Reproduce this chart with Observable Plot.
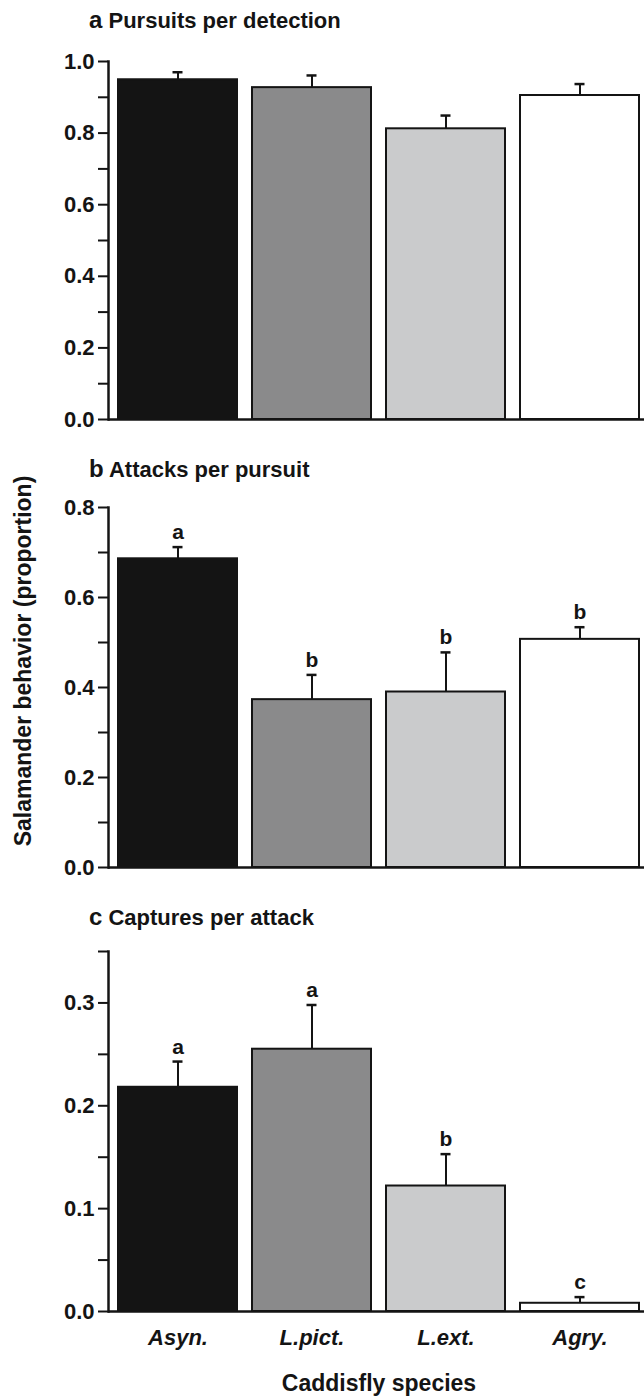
<!DOCTYPE html>
<html><head><meta charset="utf-8">
<script src="https://cdn.jsdelivr.net/npm/d3@7"></script>
<script src="https://cdn.jsdelivr.net/npm/@observablehq/plot@0.6"></script>
<style>
body{margin:0;background:#fff;font-family:"Liberation Sans",Arial,sans-serif;color:#141414}
#wrap{position:relative;width:644px;height:1396px;overflow:hidden;background:#fff}
.panel{position:absolute;left:0}
.title{position:absolute;left:89px;font-weight:bold;font-size:22px;line-height:22px;white-space:nowrap}
.ylab{position:absolute;font-weight:bold;font-size:23px;white-space:nowrap;transform:translate(-50%,-50%) rotate(-90deg);left:23px;top:661px}
.xlab{position:absolute;font-weight:bold;font-size:23px;white-space:nowrap;transform:translate(-50%,-50%);left:379px;top:1383px}
</style></head><body><div id="wrap"></div>
<script>
const species = ["Asyn.", "L.pict.", "L.ext.", "Agry."];
const fills = ["#141414", "#8a8a8b", "#cacbcc", "#ffffff"];

const pursuitsMean = [0.949, 0.927, 0.812, 0.905];
const pursuitsSE = [0.021, 0.034, 0.037, 0.032];
const pursuitsLetters = ["", "", "", ""];
const pursuitsTicks = [0, 0.2, 0.4, 0.6, 0.8, 1.0];
const pursuitsMinor = [0.1, 0.3, 0.5, 0.7, 0.9];

const attacksMean = [0.686, 0.373, 0.390, 0.507];
const attacksSE = [0.026, 0.055, 0.088, 0.027];
const attacksLetters = ["a", "b", "b", "b"];
const attacksTicks = [0, 0.2, 0.4, 0.6, 0.8];
const attacksMinor = [0.1, 0.3, 0.5, 0.7];

const capturesMean = [0.218, 0.255, 0.122, 0.008];
const capturesSE = [0.025, 0.043, 0.031, 0.006];
const capturesLetters = ["a", "a", "b", "c"];
const capturesTicks = [0, 0.1, 0.2, 0.3];
const capturesMinor = [0.05, 0.15, 0.25, 0.35];

const panels = [
  {title: "a", name: "Pursuits per detection", mean: pursuitsMean, se: pursuitsSE, letters: pursuitsLetters, ticks: pursuitsTicks, minor: pursuitsMinor, domain: [0, 1.0], top: 41, plotH: 358, xaxis: false, titleTop: 9},
  {title: "b", name: "Attacks per pursuit", mean: attacksMean, se: attacksSE, letters: attacksLetters, ticks: attacksTicks, minor: attacksMinor, domain: [0, 0.8], top: 487, plotH: 360, xaxis: false, titleTop: 458},
  {title: "c", name: "Captures per attack", mean: capturesMean, se: capturesSE, letters: capturesLetters, ticks: capturesTicks, minor: capturesMinor, domain: [0, 0.35], top: 931, plotH: 360, xaxis: true, titleTop: 906}
];

const wrap = document.getElementById("wrap");
const font = "Liberation Sans, Arial, sans-serif";

for (const p of panels) {
  const data = species.map((s, i) => ({species: s, value: p.mean[i], upper: p.mean[i] + p.se[i], letter: p.letters[i], fill: fills[i]}));
  const marginTop = 20, marginBottom = p.xaxis ? 56 : 12;
  const chart = Plot.plot({
    width: 644,
    height: marginTop + p.plotH + marginBottom,
    marginLeft: 108, marginRight: 0, marginTop, marginBottom,
    style: {fontFamily: font, color: "#141414", background: "transparent", overflow: "visible"},
    x: {type: "band", domain: species, range: [108, 649], paddingInner: 0.111, paddingOuter: 0.06, axis: null},
    y: {domain: p.domain, axis: null},
    marks: [
      Plot.barY(data, {x: "species", y: "value", fill: "fill", stroke: "#141414", strokeWidth: 2}),
      Plot.ruleX(data, {x: "species", y1: "value", y2: "upper", stroke: "#141414", strokeWidth: 2}),
      Plot.tickY(data, {x: "species", y: "upper", stroke: "#141414", strokeWidth: 2.5, insetLeft: 54.5, insetRight: 54.5}),
      Plot.text(data, {x: "species", y: "upper", text: "letter", dy: -8, lineAnchor: "bottom", fontSize: 21, fontWeight: "bold", fill: "#141414"}),
      Plot.axisY({ticks: p.minor, tickSize: 10, tickFormat: () => "", strokeWidth: 2, stroke: "#141414"}),
      Plot.axisY({ticks: p.ticks, tickSize: 10, tickPadding: 4, tickFormat: d3.format(".1f"), fontSize: 22, fontWeight: "bold", strokeWidth: 2, stroke: "#141414", fill: "#141414"}),
      Plot.frame({anchor: "left", stroke: "#141414", strokeWidth: 2.5}),
      Plot.ruleY([0], {stroke: "#141414", strokeWidth: 2.5}),
      ...(p.xaxis ? [Plot.axisX({tickSize: 0, tickPadding: 18, label: null, fontSize: 22, fontWeight: "bold", fontStyle: "italic", fill: "#141414"})] : [])
    ]
  });
  chart.classList.add("panel");
  chart.style.top = p.top + "px";
  wrap.appendChild(chart);

  const t = document.createElement("div");
  t.className = "title";
  t.style.top = p.titleTop + "px";
  t.innerHTML = `<span style="font-size:24px">${p.title}</span> ${p.name}`;
  wrap.appendChild(t);
}

const yl = document.createElement("div");
yl.className = "ylab";
yl.textContent = "Salamander behavior (proportion)";
wrap.appendChild(yl);

const xl = document.createElement("div");
xl.className = "xlab";
xl.textContent = "Caddisfly species";
wrap.appendChild(xl);
</script>
</body></html>
